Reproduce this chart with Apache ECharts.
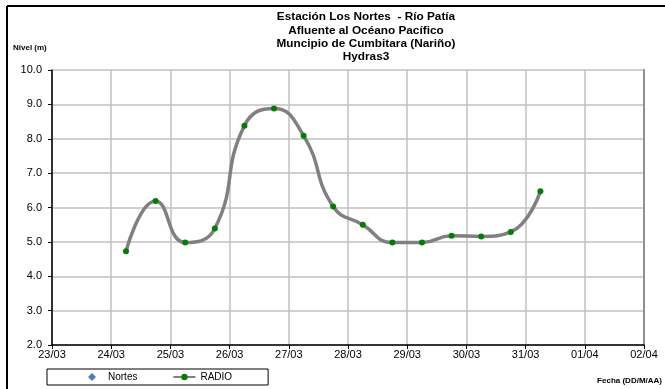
<!DOCTYPE html>
<html>
<head>
<meta charset="utf-8">
<script src="https://cdn.jsdelivr.net/npm/echarts@6/dist/echarts.min.js"></script>
<style>
  html, body { margin: 0; padding: 0; background: #fff; }
  #chart { width: 665px; height: 389px; }
</style>
</head>
<body>
<div id="chart"></div>
<script>
// fechas de lectura (cada 12 horas) y nivel en metros
const times = [
  "2013-03-24 06:00", "2013-03-24 18:00",
  "2013-03-25 06:00", "2013-03-25 18:00",
  "2013-03-26 06:00", "2013-03-26 18:00",
  "2013-03-27 06:00", "2013-03-27 18:00",
  "2013-03-28 06:00", "2013-03-28 18:00",
  "2013-03-29 06:00", "2013-03-29 18:00",
  "2013-03-30 06:00", "2013-03-30 18:00",
  "2013-03-31 06:00"
];
const radio = [4.73, 6.19, 4.98, 5.39, 8.38, 8.88, 8.09, 6.03, 5.5, 4.98, 4.98, 5.18, 5.16, 5.29, 6.47];
const nortes = [];

const titleLines = [
  "Estación Los Nortes  - Río Patía",
  "Afluente al Océano Pacífico",
  "Muncipio de Cumbitara (Nariño)",
  "Hydras3"
];

const font = "'Liberation Sans', Arial, sans-serif";

let myChart = echarts.init(document.getElementById("chart"));
myChart.setOption({
  animation: false,
  textStyle: { fontFamily: font },
  grid: {
    left: 52,
    right: 21,
    top: 70,
    bottom: 44,
  },
  graphic: [
    // marco
    { type: "line", shape: { x1: 7, y1: 6, x2: 665, y2: 6 }, style: { stroke: "#000", lineWidth: 2 } },
    { type: "line", shape: { x1: 7, y1: 6, x2: 7, y2: 389 }, style: { stroke: "#000", lineWidth: 2 } },
    {
      type: "text",
      x: 366,
      y: 10.5,
      style: {
        text: titleLines.join("\n"),
        align: "center",
        font: "bold 11.8px " + font,
        lineHeight: 13.3,
        fill: "#000",
      },
    },
    {
      type: "text",
      x: 13,
      y: 44,
      style: { text: "Nivel (m)", font: "bold 8px " + font, fill: "#000" },
    },
    {
      type: "text",
      x: 662,
      y: 377,
      style: { text: "Fecha (DD/M/AA)", align: "right", font: "bold 8px " + font, fill: "#000" },
    },
  ],
  legend: {
    left: 47,
    top: 369,
    orient: "horizontal",
    backgroundColor: "#fff",
    borderColor: "#000",
    borderWidth: 1,
    borderRadius: 0,
    padding: [3, 36, 3, 41],
    itemWidth: 22,
    itemHeight: 8,
    itemGap: 35,
    textStyle: { fontSize: 10, color: "#000", fontFamily: font },
    data: [
      { name: "Nortes", icon: "path://M5,0L10,5L5,10L0,5Z" },
      { name: "RADIO" },
    ],
  },
  xAxis: {
    type: "time",
    min: "2013-03-23 00:00",
    max: "2013-04-02 00:00",
    minInterval: 86400000,
    maxInterval: 86400000,
    axisLine: { lineStyle: { color: "#000", width: 1.5 } },
    axisTick: { show: true, length: 4, lineStyle: { color: "#000" } },
    axisLabel: {
      formatter: "{dd}/{MM}",
      fontSize: 11,
      color: "#000",
      margin: 4,
      showMinLabel: true,
      showMaxLabel: true,
      hideOverlap: false,
    },
    splitLine: { show: true, lineStyle: { color: "#c0c0c0", width: 1.5 } },
  },
  yAxis: [
    {
      type: "value",
      min: 2,
      max: 10,
      interval: 1,
      axisLine: { show: true, lineStyle: { color: "#000", width: 1.5 } },
      axisTick: { show: true, length: 4, lineStyle: { color: "#000" } },
      axisLabel: {
        formatter: (v) => v.toFixed(1),
        fontSize: 11,
        color: "#000",
        margin: 10,
      },
      splitLine: { show: true, lineStyle: { color: "#c0c0c0", width: 1.5 } },
    },
    {
      // borde derecho del área de trazado
      type: "value",
      position: "right",
      min: 2,
      max: 10,
      interval: 1,
      axisLine: { show: true, lineStyle: { color: "#909090", width: 2 } },
      axisTick: { show: false },
      axisLabel: { show: false },
      splitLine: { show: false },
    },
  ],
  series: [
    {
      name: "Nortes",
      type: "scatter",
      symbol: "diamond",
      symbolSize: 8,
      itemStyle: { color: "#4a7ebb", opacity: 1 },
      data: nortes,
    },
    {
      name: "RADIO",
      type: "line",
      smooth: 0.5,
      symbol: "circle",
      symbolSize: 6,
      showAllSymbol: true,
      lineStyle: { color: "#808080", width: 3.5 },
      itemStyle: { color: "#008000" },
      data: times.map((t, i) => [t, radio[i]]),
    },
  ],
});
</script>
</body>
</html>
